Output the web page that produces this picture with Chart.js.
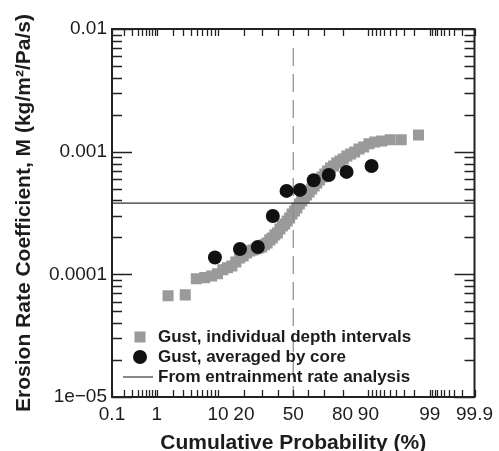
<!DOCTYPE html>
<html>
<head>
<meta charset="utf-8">
<script src="https://cdn.jsdelivr.net/npm/chart.js@4"></script>
<style>
  html, body { margin: 0; padding: 0; background: #fff; }
</style>
</head>
<body>
<canvas id="erosionChart" width="499" height="451"></canvas>
<script>
// Gust, individual depth intervals: cumulative probability (%) and M
const intervalProb = [
  1.64, 3.28, 4.92, 6.56, 8.20, 9.84, 11.48, 13.11, 14.75, 16.39,
  18.03, 19.67, 21.31, 22.95, 24.59, 26.23, 27.87, 29.51, 31.15, 32.79,
  34.43, 36.07, 37.70, 39.34, 40.98, 42.62, 44.26, 45.90, 47.54, 49.18,
  50.82, 52.46, 54.10, 55.74, 57.38, 59.02, 60.66, 62.30, 63.93, 65.57,
  67.21, 68.85, 70.49, 72.13, 73.77, 75.41, 77.05, 78.69, 80.33, 81.97,
  83.61, 85.25, 86.89, 88.52, 90.16, 91.80, 93.44, 95.08, 96.72, 98.36
];
const intervalM = [
  6.7e-5, 6.8e-5, 9.2e-5, 9.4e-5, 9.7e-5, 1.01e-4, 1.09e-4, 1.13e-4, 1.17e-4, 1.26e-4,
  1.36e-4, 1.41e-4, 1.49e-4, 1.55e-4, 1.58e-4, 1.61e-4, 1.64e-4, 1.67e-4, 1.74e-4, 1.80e-4,
  1.91e-4, 1.98e-4, 2.09e-4, 2.17e-4, 2.34e-4, 2.48e-4, 2.57e-4, 2.72e-4, 2.88e-4, 3.10e-4,
  3.29e-4, 3.48e-4, 3.75e-4, 3.97e-4, 4.20e-4, 4.44e-4, 4.70e-4, 4.97e-4, 5.25e-4, 5.56e-4,
  5.88e-4, 6.22e-4, 6.58e-4, 6.96e-4, 7.36e-4, 7.64e-4, 8.09e-4, 8.40e-4, 8.72e-4, 9.23e-4,
  9.58e-4, 9.95e-4, 1.05e-3, 1.09e-3, 1.16e-3, 1.20e-3, 1.22e-3, 1.25e-3, 1.25e-3, 1.37e-3
];

// Gust, averaged by core
const coreProb = [9.09, 18.18, 27.27, 36.36, 45.45, 54.55, 63.64, 72.73, 81.82, 90.91];
const coreM = [1.37e-4, 1.61e-4, 1.67e-4, 2.99e-4, 4.79e-4, 4.88e-4, 5.85e-4, 6.46e-4, 6.84e-4, 7.64e-4];

// From entrainment rate analysis
const entrainmentM = 3.8e-4;
// dashed median marker
const medianProb = 50;
const medianTop = 7e-3;

// axis ticks
const xTickValues = [
  0.1, 0.2, 0.3, 0.4, 0.5, 0.6, 0.7, 0.8, 0.9,
  1, 2, 3, 4, 5, 6, 7, 8, 9,
  10, 20, 30, 40, 50, 60, 70, 80, 90,
  91, 92, 93, 94, 95, 96, 97, 98, 99,
  99.1, 99.2, 99.3, 99.4, 99.5, 99.6, 99.7, 99.8, 99.9
];
const xLabelValues = [0.1, 1, 10, 20, 50, 80, 90, 99, 99.9];
const xLabels = ["0.1", "1", "10", "20", "50", "80", "90", "99", "99.9"];
const yLabelValues = [1e-5, 1e-4, 1e-3, 1e-2];
const yLabels = ["1e\u221205", "0.0001", "0.001", "0.01"];

const TEXT = "#1c1c1c";

// inverse normal cdf (Acklam)
const probit = (p) => {
  const a = [-3.969683028665376e+01, 2.209460984245205e+02, -2.759285104469687e+02,
    1.383577518672690e+02, -3.066479806614716e+01, 2.506628277459239e+00];
  const b = [-5.447609879822406e+01, 1.615858368580409e+02, -1.556989798598866e+02,
    6.680131188771082e+01, -1.328068155288572e+01];
  const c = [-7.784894002430293e-03, -3.223964580411365e-01, -2.400758277161838e+00,
    -2.549732539343734e+00, 4.374664141464968e+00, 2.938163982698783e+00];
  const d = [7.784695709041462e-03, 3.224671290700398e-01, 2.445134137142996e+00,
    3.754408661907416e+00];
  const plow = 0.02425;
  if (p < plow) {
    const q = Math.sqrt(-2 * Math.log(p));
    return (((((c[0] * q + c[1]) * q + c[2]) * q + c[3]) * q + c[4]) * q + c[5]) /
      ((((d[0] * q + d[1]) * q + d[2]) * q + d[3]) * q + 1);
  }
  if (p > 1 - plow) {
    const q = Math.sqrt(-2 * Math.log(1 - p));
    return -(((((c[0] * q + c[1]) * q + c[2]) * q + c[3]) * q + c[4]) * q + c[5]) /
      ((((d[0] * q + d[1]) * q + d[2]) * q + d[3]) * q + 1);
  }
  const q = p - 0.5;
  const r = q * q;
  return (((((a[0] * r + a[1]) * r + a[2]) * r + a[3]) * r + a[4]) * r + a[5]) * q /
    (((((b[0] * r + b[1]) * r + b[2]) * r + b[3]) * r + b[4]) * r + 1);
};

const normCdf = (z) => {
  const t = 1 / (1 + 0.3275911 * Math.abs(z) / Math.SQRT2);
  const y = 1 - (((((1.061405429 * t - 1.453152027) * t) + 1.421413741) * t - 0.284496736) * t + 0.254829592) * t *
    Math.exp(-z * z / 2);
  return z >= 0 ? 0.5 * (1 + y) : 0.5 * (1 - y);
};

// normal probability axis, values in percent
class ProbabilityScale extends Chart.Scale {
  static id = "probability";
  static defaults = {};

  determineDataLimits() {
    this.min = this.options.min;
    this.max = this.options.max;
  }

  buildTicks() {
    return xTickValues.map((v) => ({ value: v }));
  }

  configure() {
    super.configure();
    this._zMin = probit(this.min / 100);
    this._zMax = probit(this.max / 100);
  }

  getPixelForValue(value) {
    const z = probit(value / 100);
    return this.getPixelForDecimal((z - this._zMin) / (this._zMax - this._zMin));
  }

  getValueForPixel(pixel) {
    const dec = this.getDecimalForPixel(pixel);
    return normCdf(this._zMin + dec * (this._zMax - this._zMin)) * 100;
  }

  getLabelForValue(value) {
    return String(value);
  }
}
Chart.register(ProbabilityScale);

const sameValue = (a, b) => Math.abs(a / b - 1) < 1e-9;

const isMajorY = (v) => yLabelValues.some((m) => sameValue(v, m));

// frame and inward ticks on all four sides
const frameTicks = {
  id: "frameTicks",
  afterDatasetsDraw(chart) {
    const { ctx, chartArea: { left, right, top, bottom }, scales } = chart;
    ctx.save();
    ctx.strokeStyle = "#222";
    ctx.lineWidth = 1.3;
    ctx.beginPath();
    scales.x.ticks.forEach((t) => {
      const px = Math.round(scales.x.getPixelForValue(t.value)) + 0.5;
      ctx.moveTo(px, bottom);
      ctx.lineTo(px, bottom - 7);
      ctx.moveTo(px, top);
      ctx.lineTo(px, top + 7);
    });
    scales.y.ticks.forEach((t) => {
      const py = Math.round(scales.y.getPixelForValue(t.value)) + 0.5;
      const len = isMajorY(t.value) ? 20 : 10;
      ctx.moveTo(left, py);
      ctx.lineTo(left + len, py);
      ctx.moveTo(right, py);
      ctx.lineTo(right - len, py);
    });
    ctx.stroke();
    ctx.lineWidth = 2;
    ctx.strokeRect(left, top, right - left, bottom - top);
    ctx.restore();
  }
};

// legend sits inside the plot, lower left
const insideLegend = {
  id: "insideLegend",
  afterDraw(chart) {
    const { ctx, chartArea } = chart;
    const markX = chartArea.left + 28;
    const textX = chartArea.left + 46;
    let rowY = chartArea.bottom - 60;
    ctx.save();
    chart.data.datasets.forEach((ds) => {
      if (!ds.label) return;
      if (ds.showLine) {
        ctx.strokeStyle = "#555";
        ctx.lineWidth = 1.4;
        ctx.beginPath();
        ctx.moveTo(markX - 17, rowY);
        ctx.lineTo(markX + 13, rowY);
        ctx.stroke();
      } else {
        ctx.fillStyle = ds.backgroundColor;
        Chart.helpers.drawPoint(ctx, {
          pointStyle: ds.pointStyle,
          radius: ds.pointRadius,
          rotation: 0,
          borderWidth: 0
        }, markX, rowY);
      }
      ctx.fillStyle = TEXT;
      ctx.font = "bold 17px 'Liberation Sans', Arial, sans-serif";
      ctx.textBaseline = "middle";
      ctx.textAlign = "left";
      ctx.fillText(ds.label, textX, rowY);
      rowY += 20;
    });
    ctx.restore();
  }
};

const tickFont = { family: "'Liberation Sans', Arial, sans-serif", size: 19 };
const titleFont = { family: "'Liberation Sans', Arial, sans-serif", size: 21, weight: "bold", lineHeight: 1 };

new Chart(document.getElementById("erosionChart"), {
  type: "scatter",
  data: {
    datasets: [
      {
        label: "Gust, individual depth intervals",
        data: intervalProb.map((p, i) => ({ x: p, y: intervalM[i] })),
        pointStyle: "rect",
        pointRadius: 7.8,
        backgroundColor: "#9a9a9a",
        borderWidth: 0,
        order: 3
      },
      {
        label: "Gust, averaged by core",
        data: coreProb.map((p, i) => ({ x: p, y: coreM[i] })),
        pointStyle: "circle",
        pointRadius: 7,
        backgroundColor: "#111",
        borderWidth: 0,
        order: 0
      },
      {
        label: "From entrainment rate analysis",
        data: [{ x: xTickValues[0], y: entrainmentM }, { x: xTickValues[xTickValues.length - 1], y: entrainmentM }],
        showLine: true,
        pointRadius: 0,
        borderColor: "#333",
        borderWidth: 1.2,
        order: 1
      },
      {
        data: [{ x: medianProb, y: medianTop }, { x: medianProb, y: yLabelValues[0] }],
        showLine: true,
        pointRadius: 0,
        borderColor: "#8a8a8a",
        borderWidth: 1.2,
        borderDash: [18, 8],
        order: 2
      }
    ]
  },
  options: {
    responsive: false,
    animation: false,
    events: [],
    layout: { padding: { top: 29, right: 18, left: 0, bottom: 0 } },
    plugins: {
      legend: { display: false },
      tooltip: { enabled: false }
    },
    scales: {
      x: {
        type: "probability",
        position: "bottom",
        min: 0.1,
        max: 99.9,
        grid: { display: false, drawTicks: false },
        border: { display: false },
        ticks: {
          autoSkip: false,
          maxRotation: 0,
          padding: 6,
          color: TEXT,
          font: tickFont,
          callback: (value) => {
            const i = xLabelValues.findIndex((v) => sameValue(v, value));
            return i >= 0 ? xLabels[i] : "";
          }
        },
        title: {
          display: true,
          text: "Cumulative Probability (%)",
          color: TEXT,
          font: titleFont,
          padding: { top: 0, bottom: -3 }
        },
        afterFit: (scale) => { scale.height = 54; }
      },
      y: {
        type: "logarithmic",
        position: "left",
        min: 1e-5,
        max: 1e-2,
        grid: { display: false, drawTicks: false },
        border: { display: false },
        afterBuildTicks: (scale) => {
          const ticks = [];
          yLabelValues.forEach((dec, k) => {
            const steps = k < yLabelValues.length - 1 ? 9 : 1;
            for (let m = 1; m <= steps; m++) ticks.push({ value: m * dec });
          });
          scale.ticks = ticks;
        },
        ticks: {
          autoSkip: false,
          padding: 5,
          color: TEXT,
          font: tickFont,
          callback: (value) => {
            const i = yLabelValues.findIndex((v) => sameValue(v, value));
            return i >= 0 ? yLabels[i] : "";
          }
        },
        title: {
          display: true,
          text: "Erosion Rate Coefficient, M (kg/m\u00b2/Pa/s)",
          color: TEXT,
          font: titleFont,
          padding: { top: 14, bottom: 0 }
        },
        afterFit: (scale) => { scale.width = 112; }
      }
    }
  },
  plugins: [frameTicks, insideLegend]
});
</script>
</body>
</html>
